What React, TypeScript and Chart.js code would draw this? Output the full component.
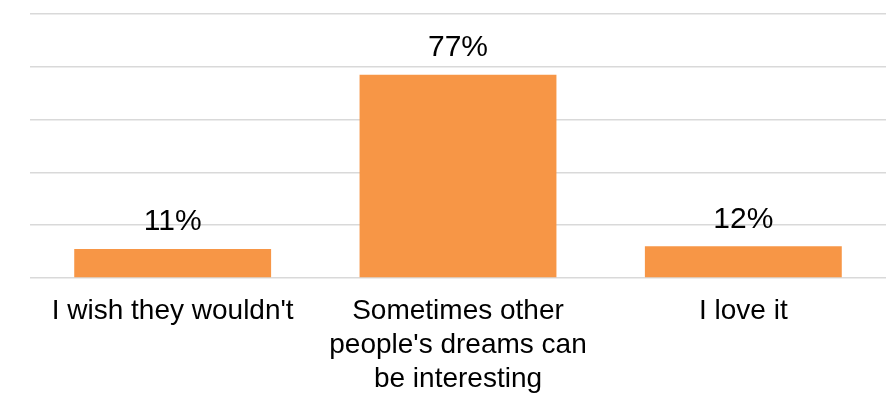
import React, { useEffect, useRef } from "react";
import { Chart, registerables } from "chart.js";

Chart.register(...registerables);

const categories: (string | string[])[] = [
  "I wish they wouldn't",
  ["Sometimes other", "people's dreams can", "be interesting"],
  "I love it",
];
const values = [11, 77, 12];
const yMin = 0;
const yMax = 100;
const yStep = 20;

const FONT = "'Liberation Sans', Arial, sans-serif";

const valueLabelPlugin = {
  id: "valueLabels",
  afterDatasetsDraw(chart: any) {
    const ctx = chart.ctx;
    const meta = chart.getDatasetMeta(0);
    ctx.save();
    ctx.font = `30px ${FONT}`;
    ctx.fillStyle = "#000";
    ctx.textAlign = "center";
    ctx.textBaseline = "alphabetic";
    meta.data.forEach((bar: any, i: number) => {
      ctx.fillText(`${values[i]}%`, bar.x, bar.y - 18.5);
    });
    ctx.restore();
  },
};

export default function App() {
  const ref = useRef<HTMLCanvasElement | null>(null);
  useEffect(() => {
    document.body.style.margin = "0";
    if (!ref.current) return;
    const chart = new Chart(ref.current, {
      type: "bar",
      data: {
        labels: categories,
        datasets: [
          {
            data: values,
            backgroundColor: "#F79646",
            borderWidth: 0,
            categoryPercentage: 1,
            barPercentage: 0.69,
          },
        ],
      },
      options: {
        animation: false,
        responsive: false,
        layout: { padding: { left: 30, right: 10, top: 14, bottom: 0 } },
        plugins: {
          legend: { display: false },
          tooltip: { enabled: false },
        },
        scales: {
          x: {
            grid: { display: false, drawTicks: false },
            border: { display: false },
            ticks: {
              color: "#000",
              font: { family: FONT, size: 28, lineHeight: 1.22 },
              padding: 16,
              maxRotation: 0,
              autoSkip: false,
            },
            afterFit: (s: any) => {
              s.height = 115;
            },
          },
          y: {
            min: yMin,
            max: yMax,
            ticks: { stepSize: yStep, display: false },
            grid: { color: "#D9D9D9", lineWidth: 1.5, drawTicks: false },
            border: { display: false },
            afterFit: (s: any) => {
              s.width = 0;
            },
          },
        },
      },
      plugins: [valueLabelPlugin],
    });
    return () => chart.destroy();
  }, []);
  return <canvas ref={ref} width={896} height={393} style={{ display: "block" }} />;
}
